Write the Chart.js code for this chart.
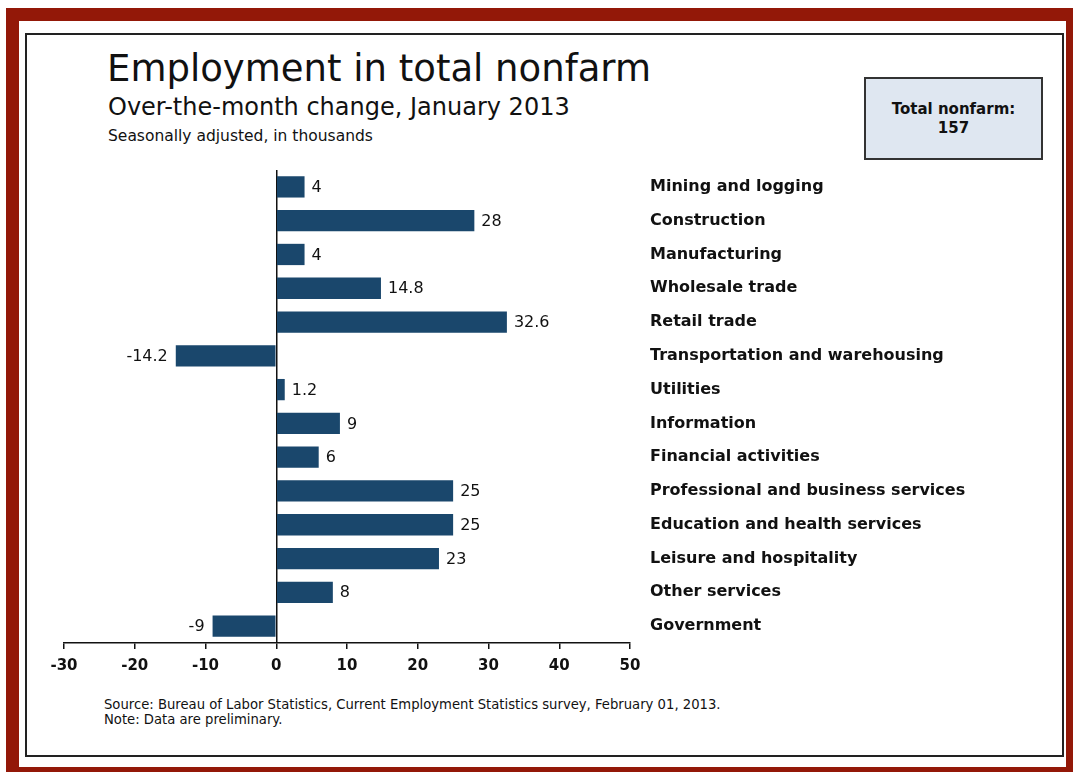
<!DOCTYPE html>
<html>
<head>
<meta charset="utf-8">
<script src="https://cdn.jsdelivr.net/npm/chart.js@4.4.1/dist/chart.umd.min.js"></script>
<style>
    html, body { margin: 0; padding: 0; background: #fff; }
    body { width: 1073px; height: 772px; position: relative; overflow: hidden; font-family: "DejaVu Sans", sans-serif; }
    .redFrame  { position: absolute; left: 6px; top: 8px; width: 1073px; height: 772px; border: 13px solid #931808; box-sizing: border-box; }
    .blackFrame{ position: absolute; left: 25px; top: 33px; width: 1039px; height: 724px; border: 2px solid #222; box-sizing: border-box; }
    .title     { position: absolute; left: 107px; top: 47px; font-size: 37px; color: #111; white-space: nowrap; }
    .subtitle  { position: absolute; left: 108px; top: 93px; font-size: 24px; color: #111; white-space: nowrap; }
    .units     { position: absolute; left: 108px; top: 127px; font-size: 15.5px; color: #111; white-space: nowrap; }
    .totalBox  { position: absolute; left: 864px; top: 77px; width: 179px; height: 83px; box-sizing: border-box;
                 border: 2px solid #333; background: #dfe7f1; font-weight: bold; font-size: 15px; color: #111;
                 text-align: center; padding-top: 21px; line-height: 19px; }
    .source    { position: absolute; left: 104px; top: 697px; font-size: 13.2px; color: #111; line-height: 15px; white-space: nowrap; }
    .chartWrap { position: absolute; left: 0; top: 0; width: 1073px; height: 772px; }
</style>
</head>
<body>
<div class="redFrame"></div>
<div class="blackFrame"></div>
<div class="title">Employment in total nonfarm</div>
<div class="subtitle">Over-the-month change, January 2013</div>
<div class="units">Seasonally adjusted, in thousands</div>
<div class="totalBox">Total nonfarm:<br>157</div>
<div class="source">Source: Bureau of Labor Statistics, Current Employment Statistics survey, February 01, 2013.<br>Note: Data are preliminary.</div>
<div class="chartWrap"><canvas id="employmentChart"></canvas></div>

<script>
//-----------------------------------------------------------------------------
// data
//-----------------------------------------------------------------------------
const industries = [
    "Mining and logging",
    "Construction",
    "Manufacturing",
    "Wholesale trade",
    "Retail trade",
    "Transportation and warehousing",
    "Utilities",
    "Information",
    "Financial activities",
    "Professional and business services",
    "Education and health services",
    "Leisure and hospitality",
    "Other services",
    "Government"
];
const monthChange = [4, 28, 4, 14.8, 32.6, -14.2, 1.2, 9, 6, 25, 25, 23, 8, -9];
const xTicks = [-30, -20, -10, 0, 10, 20, 30, 40, 50];

const barColor = "#1a476c";

//-----------------------------------------------------------------------------
// value labels next to the bar ends
//-----------------------------------------------------------------------------
const valueLabels = {
    id: "valueLabels",
    afterDatasetsDraw(chart) {
        const ctx = chart.ctx;
        const meta = chart.getDatasetMeta(0);
        ctx.save();
        ctx.font = "16px 'DejaVu Sans'";
        ctx.fillStyle = "#111";
        ctx.textBaseline = "middle";
        meta.data.forEach((bar, i) => {
            const v = monthChange[i];
            if (v >= 0) {
                ctx.textAlign = "left";
                ctx.fillText(String(v), bar.x + 7, bar.y + 1);
            } else {
                ctx.textAlign = "right";
                ctx.fillText(String(v), bar.x - 8, bar.y + 1);
            }
        });
        ctx.restore();
    }
};

Chart.defaults.font.family = "'DejaVu Sans', sans-serif";

new Chart(document.getElementById("employmentChart"), {
    type: "bar",
    data: {
        labels: industries,
        datasets: [{
            data: monthChange,
            backgroundColor: barColor,
            borderWidth: 0,
            categoryPercentage: 1,
            barPercentage: 0.63
        }]
    },
    options: {
        indexAxis: "y",
        responsive: true,
        maintainAspectRatio: false,
        animation: false,
        layout: {
            padding: { top: 170, left: 64, right: 0, bottom: 0 }
        },
        plugins: {
            legend: { display: false },
            tooltip: { enabled: false }
        },
        scales: {
            x: {
                min: -30,
                max: 50,
                afterBuildTicks: (s) => { s.ticks = xTicks.map(v => ({ value: v })); },
                afterFit: (s) => { s.height = 129; },
                border: { display: true, color: "#111", width: 1.5 },
                grid: {
                    drawOnChartArea: true,
                    drawTicks: true,
                    tickLength: 6,
                    tickColor: "#111",
                    lineWidth: 1.5,
                    color: (c) => (c.tick && c.tick.value === 0) ? "#111" : "rgba(0,0,0,0)"
                },
                ticks: {
                    color: "#111",
                    padding: 8,
                    maxRotation: 0,
                    font: { size: 15, weight: "bold" }
                }
            },
            y: {
                position: "right",
                afterFit: (s) => { s.width = 443; },
                border: { display: false },
                grid: { display: false, drawTicks: false },
                ticks: {
                    color: "#111",
                    padding: 20,
                    font: { size: 16, weight: "bold" }
                }
            }
        }
    },
    plugins: [valueLabels]
});
</script>
</body>
</html>
